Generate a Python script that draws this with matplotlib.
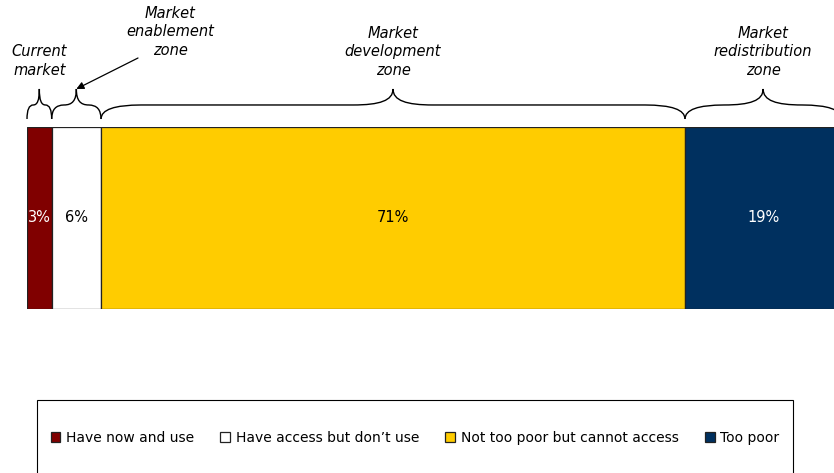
import matplotlib.pyplot as plt
from matplotlib.path import Path
from matplotlib.patches import PathPatch, Rectangle
from matplotlib.transforms import blended_transform_factory

# market segments, left to right (% of population)
segments = ['Have now and use', 'Have access but don\u2019t use',
            'Not too poor but cannot access', 'Too poor']
shares = [3, 6, 71, 19]
colors = ['#800000', '#FFFFFF', '#FFCC00', '#00305F']
label_colors = ['white', 'black', 'black', 'white']

# zones marked with braces above the bar: (first segment, last segment, label)
zones = [(0, 0, 'Current\nmarket'),
         (1, 1, None),
         (2, 2, 'Market\ndevelopment\nzone'),
         (3, 3, 'Market\nredistribution\nzone')]

W, H = 834, 473
fig = plt.figure(figsize=(W / 100, H / 100), dpi=100)
plt.rcParams['font.family'] = 'DejaVu Sans'

px = 8.225  # pixels per percentage point
left = 27
ax = fig.add_axes([left / W, 1 - 309 / H, (W - left) / W, 182 / H])
ax.set_xlim(0, (W - left) / px)
ax.set_ylim(-0.5, 0.5)
ax.axis('off')

start = 0
bars = []
for name, val, col, tc in zip(segments, shares, colors, label_colors):
    b = ax.barh(0, val, left=start, height=1, color=col, edgecolor='#222222',
                linewidth=0.9, label=name)
    bars.append(b)
    ax.text(start + val / 2, 0, f'{val}%', ha='center', va='center',
            color=tc, fontsize=10.5)
    start += val

trans = blended_transform_factory(ax.transData, ax.transAxes)
y_tip, y_mid, y_peak = 1.044, 1.121, 1.209


def brace(x0, x1):
    xc = (x0 + x1) / 2
    r = min(40 / px, (x1 - x0) / 4)
    verts = [(x0, y_tip),
             (x0, y_mid), (x0 + r, y_mid),
             (xc - r, y_mid),
             (xc - r / 3, y_mid), (xc, (y_mid + y_peak) / 2 - 0.02), (xc, y_peak),
             (xc, (y_mid + y_peak) / 2 - 0.02), (xc + r / 3, y_mid), (xc + r, y_mid),
             (x1 - r, y_mid),
             (x1, y_mid), (x1, y_tip)]
    codes = [Path.MOVETO,
             Path.CURVE3, Path.CURVE3,
             Path.LINETO,
             Path.CURVE4, Path.CURVE4, Path.CURVE4,
             Path.CURVE4, Path.CURVE4, Path.CURVE4,
             Path.LINETO,
             Path.CURVE3, Path.CURVE3]
    ax.add_patch(PathPatch(Path(verts, codes), fill=False, lw=1.0,
                           edgecolor='black', transform=trans, clip_on=False))
    return xc


bounds = [sum(shares[:i]) for i in range(len(shares) + 1)]
peaks = []
for i0, i1, text in zones:
    xc = brace(bounds[i0], bounds[i1 + 1])
    peaks.append(xc)
    if text:
        ax.text(xc, y_peak + 0.06, text, transform=trans, ha='center',
                va='bottom', style='italic', fontsize=10.5, linespacing=1.3)

# enablement zone label sits up and to the right, with an arrow to its brace
fig.text(170 / W, 1 - 32 / H, 'Market\nenablement\nzone', ha='center',
         va='center', style='italic', fontsize=10.5, linespacing=1.3)
ax.annotate('', xy=(peaks[1], y_peak), xycoords=trans,
            xytext=(138 / W, 1 - 58 / H), textcoords='figure fraction',
            arrowprops=dict(arrowstyle='-|>', color='black', lw=0.9,
                            shrinkA=0, shrinkB=0, mutation_scale=11))

# legend in a framed box along the bottom
fig.patches.append(Rectangle((37 / W, -0.2), (793 - 37) / W, 0.2 + 1 - 400 / H,
                             transform=fig.transFigure, fill=False,
                             edgecolor='black', linewidth=0.8))
fig.legend(handles=bars, loc='center',
           bbox_to_anchor=(415 / W, 1 - 438 / H), ncol=4, frameon=False,
           fontsize=10, handlelength=0.7, handleheight=0.7,
           handletextpad=0.4, columnspacing=1.9)

fig.savefig('out.png', dpi=100)
